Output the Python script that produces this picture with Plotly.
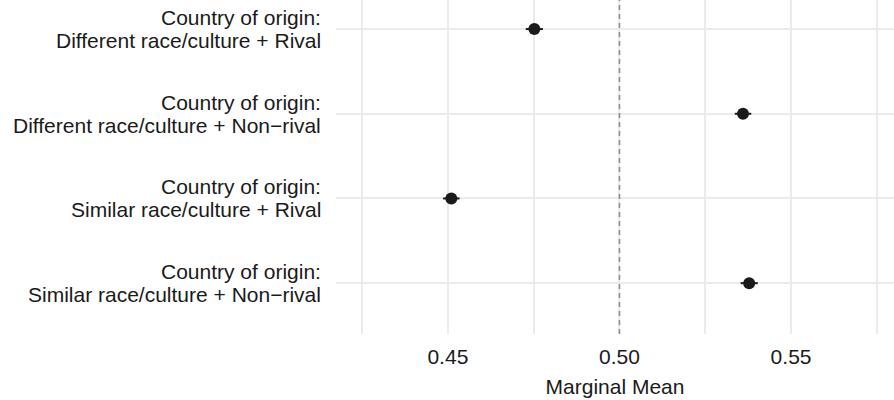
import plotly.graph_objects as go

# Data (top to bottom as displayed)
category_prefix = "Country of origin:"
category_labels = [
    "Different race/culture + Rival",
    "Different race/culture + Non\u2212rival",
    "Similar race/culture + Rival",
    "Similar race/culture + Non\u2212rival",
]
estimates = [0.4752, 0.5360, 0.4510, 0.5378]
ci_half = [0.0025, 0.0024, 0.0024, 0.0025]
x_ticks = [0.45, 0.50, 0.55]
x_tick_labels = ["0.45", "0.50", "0.55"]
reference_value = 0.50

FONT = "Liberation Sans, Arial, Helvetica, sans-serif"
TEXT = "#1a1a1a"
FS = 21

fig = go.Figure()
fig.add_trace(go.Scatter(
    x=estimates,
    y=category_labels,
    mode="markers",
    marker=dict(color="#1a1a1a", size=12),
    error_x=dict(type="data", array=ci_half, color="#1a1a1a", thickness=2, width=0),
    showlegend=False,
))

fig.add_vline(x=reference_value, line=dict(color="#8f8f8f", width=1.6, dash="5px,4px"), layer="above")

# Two-line y labels with ggplot-like tight line spacing
for lab in category_labels:
    for txt, shift in ((category_prefix, 11.5), (lab, -11.5)):
        fig.add_annotation(
            x=0, xref="paper", y=lab, yref="y",
            text=txt, showarrow=False,
            xanchor="right", yanchor="middle",
            xshift=-13, yshift=shift,
            font=dict(family=FONT, size=FS, color=TEXT),
        )

fig.update_layout(
    width=894, height=400,
    margin=dict(l=336, r=0, t=0, b=66),
    paper_bgcolor="white", plot_bgcolor="white",
    font=dict(family=FONT, size=FS, color=TEXT),
    xaxis=dict(
        range=[0.4174, 0.5800],
        tickvals=x_ticks, ticktext=x_tick_labels,
        showgrid=True, gridcolor="#ebebeb", gridwidth=1.6,
        minor=dict(dtick=0.025, tick0=0.425, showgrid=True, gridcolor="#ebebeb", gridwidth=1.6),
        zeroline=False, showline=False, ticks="",
        ticklabelstandoff=8,
        tickfont=dict(size=FS, color=TEXT),
        title=dict(text="Marginal Mean", font=dict(size=FS, color=TEXT), standoff=12),
    ),
    yaxis=dict(
        type="category",
        categoryorder="array",
        categoryarray=category_labels[::-1],
        range=[-0.6, 3.343],
        showgrid=True, gridcolor="#ebebeb", gridwidth=2,
        zeroline=False, showline=False, ticks="",
        showticklabels=False,
    ),
)

fig.write_html(
    "out.html",
    config={"displayModeBar": False},
    post_script="document.body.style.margin='0';document.body.style.padding='0';",
)
